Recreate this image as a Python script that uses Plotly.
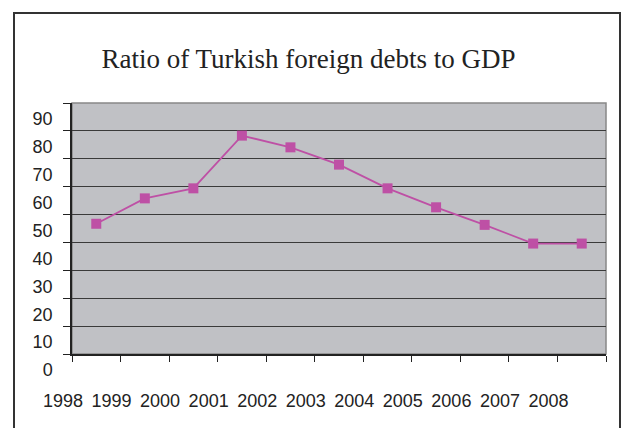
import plotly.graph_objects as go

years = ["1998", "1999", "2000", "2001", "2002", "2003", "2004", "2005", "2006", "2007", "2008"]
ratio = [46.7, 55.8, 59.4, 78.3, 74.1, 67.9, 59.4, 52.6, 46.3, 39.6, 39.6]
y_ticks = [0, 10, 20, 30, 40, 50, 60, 70, 80, 90]

x_pos = [i + 0.5 for i in range(len(years))]

fig = go.Figure()
fig.add_trace(go.Scatter(
    x=x_pos, y=ratio, mode="lines+markers",
    line=dict(color="#BE50A5", width=1.8),
    marker=dict(symbol="square", size=10, color="#BE50A5"),
    showlegend=False, hoverinfo="skip",
))

fig.update_layout(
    width=622, height=428,
    margin=dict(l=72, r=16, t=103, b=74),
    paper_bgcolor="white",
    plot_bgcolor="#C0C1C5",
    title=dict(
        text="Ratio of Turkish foreign debts to GDP",
        font=dict(family="Liberation Serif, Times New Roman, serif", size=27, color="#222"),
        x=(308.5 - 72) / 534, xref="paper", xanchor="center",
        y=1 - 59 / 428, yref="container", yanchor="middle",
    ),
    font=dict(family="Liberation Sans, Arial, sans-serif", size=18, color="#222"),
    xaxis=dict(
        range=[0, len(years)],
        tickmode="array",
        tickvals=list(range(len(years))) + [len(years)],
        ticktext=years + [""],
        ticks="outside", ticklen=6, tickcolor="#222", tickwidth=1,
        showgrid=False, zeroline=False,
        showline=True, linecolor="#222", linewidth=1.5,
        ticklabelshift=-9, ticklabelstandoff=24,
        tickfont=dict(size=18),
    ),
    yaxis=dict(
        range=[0, 90],
        tickmode="array", tickvals=y_ticks, ticktext=[str(v) for v in y_ticks],
        ticks="outside", ticklen=7, tickcolor="#222", tickwidth=1,
        showgrid=True, gridcolor="#3a3a3a", gridwidth=1,
        zeroline=False,
        showline=True, linecolor="#222", linewidth=1.5,
        ticklabelshift=16, ticklabelstandoff=7,
        tickfont=dict(size=18),
    ),
    shapes=[
        dict(type="rect", xref="paper", yref="paper",
             x0=0, x1=1, y0=0, y1=1,
             line=dict(color="#888888", width=1.5), layer="below"),
        dict(type="rect", xref="paper", yref="paper",
             x0=(14 - 72) / 534, x1=(620 - 72) / 534,
             y0=(354 - 445) / 251, y1=(354 - 13) / 251,
             line=dict(color="#333333", width=2), fillcolor="rgba(0,0,0,0)", layer="above"),
    ],
)

fig.write_html("out.html", config={"displayModeBar": False},
               post_script="document.body.style.margin='0';document.body.style.overflow='hidden';")
